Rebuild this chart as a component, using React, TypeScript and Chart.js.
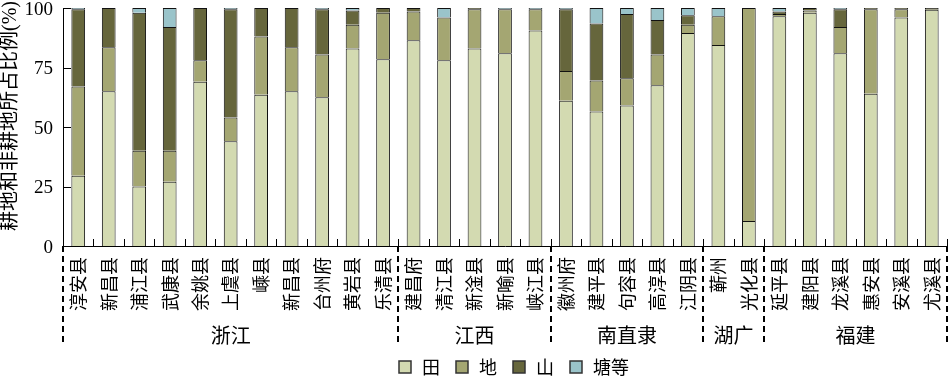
import React, { useEffect, useRef } from 'react';
import { Chart, registerables } from 'chart.js';

Chart.register(...registerables);

const categories = ['淳安县', '新昌县', '浦江县', '武康县', '余姚县', '上虞县', '嵊县', '新昌县', '台州府', '黄岩县', '乐清县', '建昌府', '清江县', '新淦县', '新喻县', '峡江县', '徽州府', '建平县', '句容县', '高淳县', '江阴县', '蕲州', '光化县', '延平县', '建阳县', '龙溪县', '惠安县', '安溪县', '尤溪县'];

const tian = [29.5, 65, 25, 27, 69, 44, 63.5, 65, 62.5, 83, 78.5, 86.5, 78, 83, 81, 90.5, 61, 56.5, 59, 67.5, 89.5, 84.5, 10.5, 96.5, 98, 81, 64, 96, 99.3];
const di = [37.5, 18.5, 15, 13, 9, 10, 24.5, 18.5, 18, 10, 19.5, 12, 18, 16.5, 18.5, 9, 12.5, 13, 11.5, 13, 3.5, 12, 89.5, 1, 1, 11, 35.5, 3.5, 0];
const shan = [32.5, 16.5, 58, 52, 22, 45.5, 12, 16.5, 19, 6, 2, 1.5, 0, 0.5, 0, 0, 26, 24, 27, 14.5, 4, 0, 0, 1, 1, 7.5, 0.5, 0.5, 0.7];
const tang = [0.5, 0, 2, 8, 0, 0.5, 0, 0, 0.5, 1, 0, 0, 4, 0, 0.5, 0.5, 0.5, 6.5, 2.5, 5, 3, 3.5, 0, 1.5, 0, 0.5, 0, 0, 0];

const groupNames = ['浙江', '江西', '南直隶', '湖广', '福建'];
const groupSizes = [11, 5, 5, 2, 6];

const yTicks = [0, 25, 50, 75, 100];
const yTitle = '耕地和非耕地所占比例(%)';

const seriesNames = ['田', '地', '山', '塘等'];
const seriesColors = ['#d3dab1', '#a4a672', '#66663c', '#9ac4ca'];

const CJK = "'Liberation Serif', 'Noto Sans CJK SC', serif";

export default function App() {
  const ref = useRef<HTMLCanvasElement>(null);

  useEffect(() => {
    const canvas = ref.current;
    if (!canvas) return;

    const decor = {
      id: 'decor',
      afterDraw(chart: any) {
        const ctx = chart.ctx as CanvasRenderingContext2D;
        const xs = chart.scales.x;
        const ys = chart.scales.y;
        const area = chart.chartArea;
        const step = xs.getPixelForValue(1) - xs.getPixelForValue(0);
        const start = xs.getPixelForValue(0) - step / 2;
        ctx.save();
        ctx.strokeStyle = '#000';
        ctx.fillStyle = '#000';
        ctx.lineWidth = 1;

        // y inward ticks
        yTicks.forEach((v) => {
          const py = Math.round(ys.getPixelForValue(v)) + 0.5;
          ctx.beginPath();
          ctx.moveTo(area.left, py);
          ctx.lineTo(area.left + 8, py);
          ctx.stroke();
        });
        // x inward ticks at category boundaries
        for (let i = 1; i <= categories.length; i++) {
          const px = Math.round(start + i * step) + 0.5;
          ctx.beginPath();
          ctx.moveTo(px, area.bottom);
          ctx.lineTo(px, area.bottom - 7);
          ctx.stroke();
        }

        // y tick labels
        ctx.font = "19px 'Liberation Serif', serif";
        ctx.textAlign = 'right';
        ctx.textBaseline = 'middle';
        yTicks.forEach((v) => {
          ctx.fillText(String(v), 53, ys.getPixelForValue(v) + 2);
        });

        // y title
        ctx.save();
        ctx.translate(11, 116);
        ctx.rotate(-Math.PI / 2);
        ctx.textAlign = 'center';
        ctx.textBaseline = 'middle';
        ctx.font = '20px ' + CJK;
        ctx.fillText(yTitle, 0, 0);
        ctx.restore();

        // category labels (rotated)
        ctx.font = "18px 'Noto Sans CJK SC', sans-serif";
        categories.forEach((c, i) => {
          const cx = xs.getPixelForValue(i);
          ctx.save();
          ctx.translate(cx, area.bottom + 11);
          ctx.rotate(-Math.PI / 2);
          ctx.textAlign = 'right';
          ctx.textBaseline = 'middle';
          ctx.fillText(c, 0, 0);
          ctx.restore();
        });

        // group separators and labels
        let b = 0;
        const bounds = [0];
        groupSizes.forEach((n) => {
          b += n;
          bounds.push(b);
        });
        ctx.lineWidth = 2;
        ctx.setLineDash([6, 4]);
        bounds.forEach((bi) => {
          const px = Math.round(start + bi * step);
          ctx.beginPath();
          ctx.moveTo(px, area.bottom);
          ctx.lineTo(px, 346);
          ctx.stroke();
        });
        ctx.setLineDash([]);
        ctx.font = "20px 'Noto Sans CJK SC', sans-serif";
        ctx.textAlign = 'center';
        ctx.textBaseline = 'middle';
        groupNames.forEach((g, gi) => {
          const x0 = start + bounds[gi] * step;
          const x1 = start + bounds[gi + 1] * step;
          ctx.fillText(g, (x0 + x1) / 2, 335);
        });

        // legend
        ctx.font = "18px 'Noto Sans CJK SC', sans-serif";
        ctx.textAlign = 'left';
        ctx.textBaseline = 'middle';
        let lx = 399;
        const ly = 367;
        seriesNames.forEach((s, si) => {
          ctx.fillStyle = seriesColors[si];
          ctx.fillRect(lx, ly - 6, 12, 12);
          ctx.strokeStyle = '#333';
          ctx.lineWidth = 1.5;
          ctx.strokeRect(lx, ly - 6, 12, 12);
          ctx.fillStyle = '#000';
          ctx.fillText(s, lx + 23, ly);
          lx += 23 + ctx.measureText(s).width + 16;
        });
        ctx.restore();
      },
    };

    const mk = (label: string, data: number[], color: string) => ({
      label,
      data,
      backgroundColor: color,
      borderColor: '#111',
      borderWidth: 1,
      borderSkipped: 'bottom',
      barPercentage: 0.45,
      categoryPercentage: 1,
    });

    const chart = new Chart(canvas, {
      type: 'bar',
      data: {
        labels: categories,
        datasets: [
          mk(seriesNames[0], tian, seriesColors[0]),
          mk(seriesNames[1], di, seriesColors[1]),
          mk(seriesNames[2], shan, seriesColors[2]),
          mk(seriesNames[3], tang, seriesColors[3]),
        ],
      },
      options: {
        animation: false,
        responsive: true,
        maintainAspectRatio: false,
        layout: { padding: { top: 8, right: 3, left: 0, bottom: 0 } },
        plugins: {
          legend: { display: false },
          tooltip: { enabled: false },
        },
        scales: {
          x: {
            stacked: true,
            grid: { display: false },
            border: { display: true, color: '#000', width: 1 },
            ticks: { display: false },
            afterFit: (s: any) => {
              s.height = 133;
            },
          },
          y: {
            stacked: true,
            min: 0,
            max: 100,
            grid: { display: false },
            border: { display: true, color: '#000', width: 1 },
            ticks: { display: false, stepSize: 25 },
            afterFit: (s: any) => {
              s.width = 63;
            },
          },
        },
      },
      plugins: [decor],
    } as any);

    return () => chart.destroy();
  }, []);

  return (
    <div style={{ position: 'fixed', left: 0, top: 0, width: 950, height: 379, background: '#fff' }}>
      <canvas ref={ref} />
    </div>
  );
}
